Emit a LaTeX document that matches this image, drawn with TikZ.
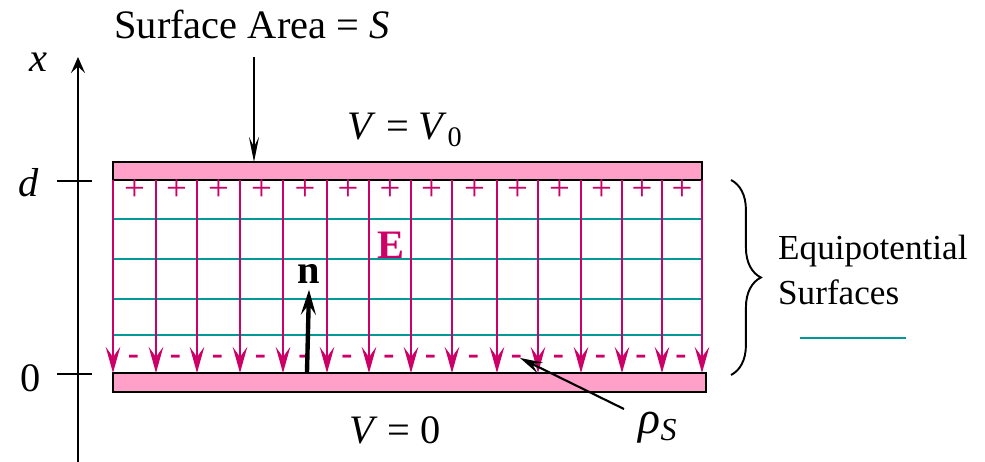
\documentclass[tikz,border=0pt]{standalone}
\usepackage{fontspec}
\setmainfont{Liberation Serif}
\usetikzlibrary{arrows.meta,decorations.pathreplacing}
\definecolor{FieldRed}{HTML}{CC0066}
\definecolor{PlatePink}{HTML}{FFA0C8}
\definecolor{EquiTeal}{HTML}{009995}
\begin{document}
\begin{tikzpicture}[x=0.02cm,y=-0.02cm,font=\fontsize{23}{25.6}\selectfont,
		plate/.style={draw,line width=1.2pt,fill=PlatePink,inner sep=0pt},
		field/.style={FieldRed,line width=1.1pt,-{Stealth[length=5.2mm,width=2.9mm,inset=2mm]}},
		equi/.style={EquiTeal,line width=1.2pt},
		charge/.style={FieldRed,font=\fontsize{21}{21}\selectfont}]
		\useasboundingbox (0,0) rectangle (985,462);
		\def\RighT{702}%极板右端
		% 坐标轴
		\coordinate (xbot) at (78,462);
		\coordinate (xtop) at (78,57);
		\draw[line width=1.1pt,-{Stealth[length=3.2mm,width=2.8mm,inset=1.3mm]}] (xbot)--(xtop);
		\node (xlab) at (38,62) {\textit{x}};
		\node (dlab) at (29,183) {\textit{d}};
		\node (zlab) at (31,378) {0};
		\draw[line width=1.1pt] (57,181)--(92,181) (57,374)--(92,374);
		% 等势面
		\foreach \y in{219,259,299,335}
			\draw[equi] (113,\y)--(\RighT,\y);
		% 极板
		\node[plate,minimum width=11.78cm,minimum height=.36cm] (top) at (407.5,171) {};
		\node[plate,minimum width=11.86cm,minimum height=.38cm] (bot) at (409.5,382.5) {};
		% 电场线与电荷
		\foreach \x in{113,156,197,240,283,327,369,411,452,497,538,581,622,662,702}
			\draw[field] (\x,180)--(\x,373);
		\foreach \a/\b [count=\i] in{113/156,156/197,197/240,240/283,283/327,327/369,369/411,411/452,452/497,497/538,538/581,581/622,622/662,662/702}{
			\node[charge] (plus\i) at ({(\a+\b)/2},190) {+};
			\node[charge,font=\fontsize{19}{19}\bfseries] (minus\i) at ({(\a+\b)/2-1},360) {-};
		}
		\node[FieldRed,font=\fontsize{23}{24}\bfseries] (E) at (391,245) {E};
		% 法向量
		\coordinate (nbase) at (307,372);
		\node[font=\fontsize{23}{24}\bfseries] (n) at (309,274) {n};
		\draw[line width=2.5pt,-{Stealth[length=5mm,width=3mm,inset=2mm]}] (nbase)--(n.south);
		% 标注
		\node (area) at (252,24) {Surface Area = \textit{S}};
		\coordinate (areaend) at (254,57);
		\draw[line width=1pt,-{Stealth[length=5mm,width=2mm,inset=2mm]}] (areaend)--(254,162);
		\node (Vtop) at (405,130) {\textit{V} = \textit{V}\textsubscript{0}};
		\node (Vbot) at (395,430) {\textit{V} = 0};
		\node[font=\fontsize{26}{26}\selectfont] (rho) at (658,428) {\textit{ρ}\textsubscript{\textit{S}}};
		\coordinate (rhostart) at (624,409);
		\coordinate (rhotip) at (520,358);
		\draw[line width=1.2pt,-{Stealth[length=4.5mm,width=2.4mm,inset=1.8mm]}] (rhostart)--(rhotip);
		\draw[line width=1.1pt,decorate,decoration={brace,amplitude=17pt}] (731,180)--(731,375);
		\node[align=left,anchor=west,font=\fontsize{20}{25.6}\selectfont] (eq) at (772,270) {Equipotential\\Surfaces};
		\coordinate (legA) at (800,338);
		\coordinate (legB) at (906,338);
		\draw[equi] (legA)--(legB);
\end{tikzpicture}
\end{document}
